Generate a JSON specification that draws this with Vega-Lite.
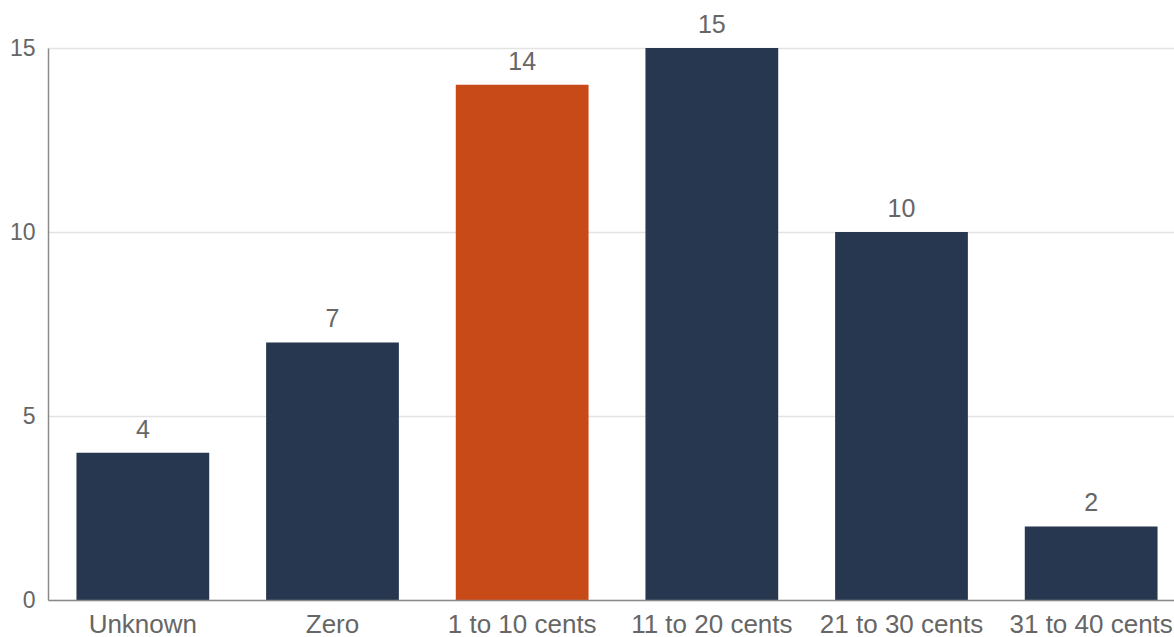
{
  "$schema": "https://vega.github.io/schema/vega-lite/v6.json",
  "width": 1138,
  "height": 552,
  "autosize": {"type": "none"},
  "padding": {"left": 48, "top": 48, "right": 0, "bottom": 37},
  "background": "white",
  "config": {
    "view": {"stroke": null},
    "font": "Liberation Sans"
  },
  "data": {
    "values": [
      {"range": "Unknown", "count": 4, "highlight": "no"},
      {"range": "Zero", "count": 7, "highlight": "no"},
      {"range": "1 to 10 cents", "count": 14, "highlight": "yes"},
      {"range": "11 to 20 cents", "count": 15, "highlight": "no"},
      {"range": "21 to 30 cents", "count": 10, "highlight": "no"},
      {"range": "31 to 40 cents", "count": 2, "highlight": "no"}
    ]
  },
  "encoding": {
    "x": {
      "field": "range",
      "type": "nominal",
      "sort": null,
      "title": null,
      "scale": {"paddingInner": 0.3, "paddingOuter": 0.15},
      "axis": {
        "labelAngle": 0,
        "labelFontSize": 26,
        "labelColor": "#666666",
        "labelBaseline": "alphabetic",
        "labelPadding": 32,
        "labelOverlap": false,
        "labelBound": false,
        "ticks": false,
        "domainColor": "#8a8a8a",
        "domainWidth": 1.5,
        "grid": false,
        "zindex": 1
      }
    },
    "y": {
      "field": "count",
      "type": "quantitative",
      "title": null,
      "scale": {"domain": [0, 15], "nice": false},
      "axis": {
        "values": [0, 5, 10, 15],
        "labelFontSize": 23,
        "labelColor": "#666666",
        "labelPadding": 13,
        "ticks": false,
        "domainColor": "#8a8a8a",
        "domainWidth": 1.5,
        "gridColor": "#e3e3e3",
        "gridWidth": 1.5
      }
    }
  },
  "layer": [
    {
      "mark": {"type": "bar"},
      "encoding": {
        "color": {
          "field": "highlight",
          "type": "nominal",
          "scale": {"domain": ["no", "yes"], "range": ["#283750", "#C84A19"]},
          "legend": null
        }
      }
    },
    {
      "mark": {"type": "text", "baseline": "alphabetic", "dy": -15, "fontSize": 25, "color": "#666666"},
      "encoding": {
        "text": {"field": "count", "type": "quantitative"}
      }
    }
  ]
}
